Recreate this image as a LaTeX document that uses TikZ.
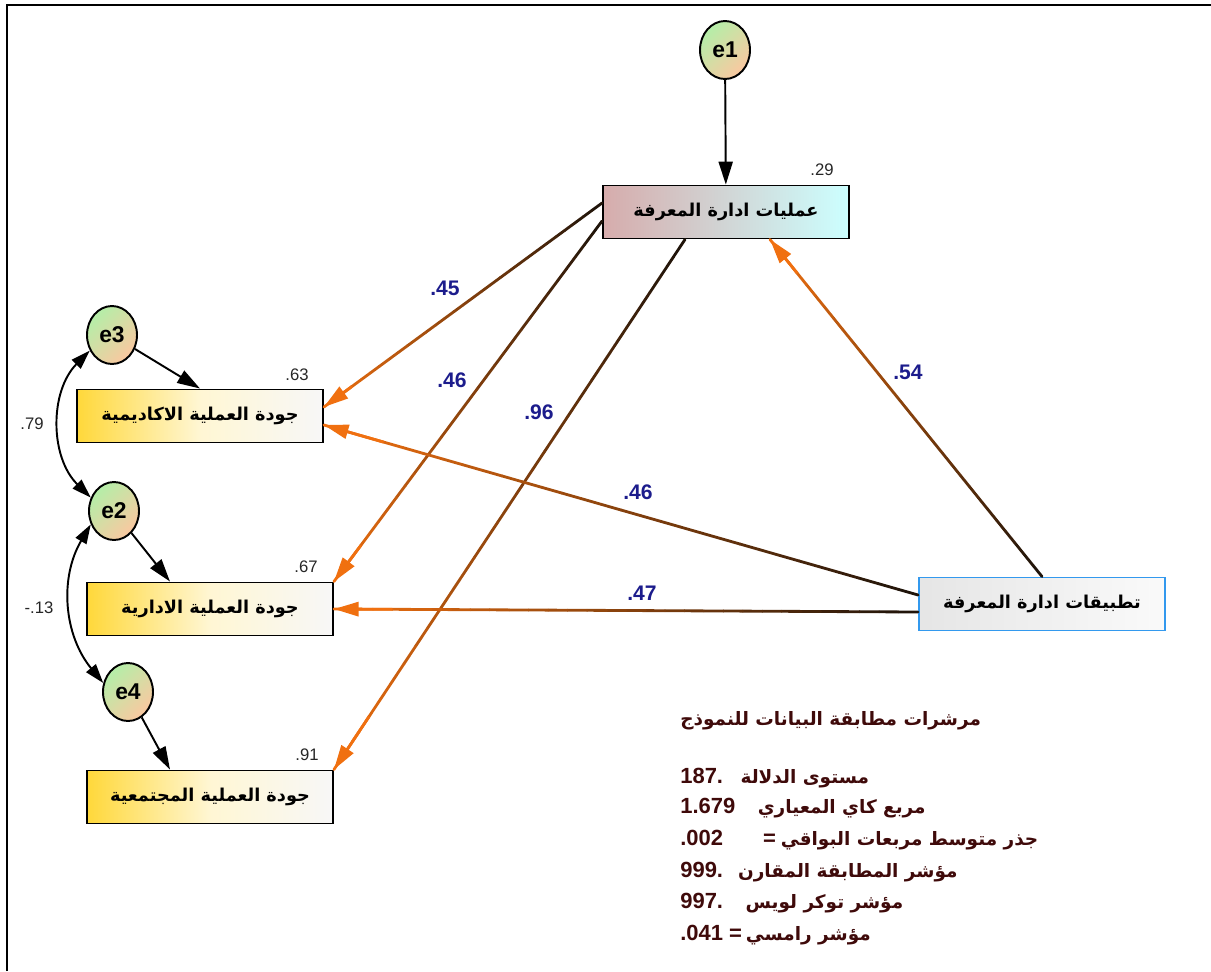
\documentclass[tikz,border=0pt]{standalone}
\usepackage{fontspec}
\setmainfont{Liberation Sans}
\newfontfamily\arabicfont[Script=Arabic,Scale=0.84]{DejaVu Sans}
\TeXXeTstate=1
\usetikzlibrary{arrows.meta,shapes.geometric,calc}

\definecolor{pathdark}{HTML}{20140A}
\definecolor{pathorange}{HTML}{F07010}
\definecolor{coefblue}{HTML}{1C1C8C}
\definecolor{fitred}{HTML}{3F0A0A}
\definecolor{egreen}{HTML}{B4EEA8}
\definecolor{epeach}{HTML}{FAC8A0}
\definecolor{opspink}{HTML}{D6ACAC}
\definecolor{opscyan}{HTML}{CCFFFF}
\definecolor{outyellow}{HTML}{FFD83A}
\definecolor{appsblue}{HTML}{3399EE}

% arabic text, right to left
\newcommand{\ar}[1]{{\arabicfont\bfseries\beginR #1\endR}}

% path from #1 to #2, dark at the start and orange at the head
\newcommand{\gradpath}[2]{%
  \foreach \k in {0,...,29}{%
    \pgfmathsetmacro\ka{\k/30}%
    \pgfmathsetmacro\kb{(\k+1)/30}%
    \pgfmathtruncatemacro\kc{100*\k/29}%
    \draw[line width=1.6pt, line cap=round, draw=pathorange!\kc!pathdark] ($#1!\ka!#2$) -- ($#1!\kb!#2$);
  }%
  \draw[-{Triangle[length=14pt,width=8pt]}, line width=1.6pt, pathorange] ($#1!0.9!#2$) -- #2;
}

\begin{document}
\begin{tikzpicture}[x=0.02cm, y=-0.02cm,
  errvar/.style={ellipse, draw, line width=1.1pt, minimum width=1.0cm, minimum height=1.16cm, inner sep=0pt,
    top color=egreen, bottom color=epeach, shading angle=45, font=\bfseries\fontsize{13}{13}\selectfont},
  obsbox/.style={rectangle, draw, line width=1.1pt, minimum width=4.92cm, minimum height=1.06cm, inner sep=0pt,
    font=\fontsize{12}{14}\selectfont},
  outbox/.style={obsbox, left color=outyellow, right color=white!97!black, middle color=outyellow!22!white},
  coef/.style={text=coefblue, font=\bfseries\fontsize{12}{12}\selectfont},
  rsq/.style={text=black!85, font=\fontsize{9.5}{10}\selectfont},
  fitline/.style={anchor=west, text=fitred, inner sep=0pt, font=\bfseries\fontsize{12.5}{14}\selectfont},
  blackarrow/.style={-{Triangle[length=13pt,width=8pt]}, line width=1.1pt},
  covarrow/.style={{Triangle[length=11pt,width=7pt]}-{Triangle[length=11pt,width=7pt]}, line width=1.1pt}]
\useasboundingbox (0,0) rectangle (1211,971);
\draw[line width=1.7pt] (7,971) -- (7,5) -- (1211,5);

% variables
\node[errvar] (e1) at (725,50) {e1};
\node[obsbox, left color=opspink, right color=opscyan] (ops) at (726,212) {\ar{عمليات ادارة المعرفة}};
\node[obsbox, draw=appsblue, left color=black!10, right color=black!2] (apps) at (1042,604) {\ar{تطبيقات ادارة المعرفة}};
\node[errvar] (e3) at (112,335) {e3};
\node[outbox] (acad) at (200,416) {\ar{جودة العملية الاكاديمية}};
\node[errvar] (e2) at (114,511) {e2};
\node[outbox] (admin) at (210,609) {\ar{جودة العملية الادارية}};
\node[errvar] (e4) at (128,692) {e4};
\node[outbox] (comm) at (210,797) {\ar{جودة العملية المجتمعية}};

% squared multiple correlations
\node[rsq] (r1) at (822,170) {.29};
\node[rsq] (r2) at (297,375) {.63};
\node[rsq] (r3) at (306,567) {.67};
\node[rsq] (r4) at (307,755) {.91};

% end points on the box sides
\coordinate (opsA) at ($(ops.west)+(0,-9)$);
\coordinate (opsB) at ($(ops.west)+(0,9)$);
\coordinate (opsC) at ($(ops.south)+(-41,0)$);
\coordinate (opsD) at ($(ops.south)+(44,0)$);
\coordinate (appsA) at ($(apps.west)+(0,-9)$);
\coordinate (appsB) at ($(apps.west)+(0,8)$);
\coordinate (acadA) at ($(acad.east)+(0,-9)$);
\coordinate (acadB) at ($(acad.east)+(0,9)$);
\coordinate (adminT) at ($(admin.north)+(-40,0)$);
\coordinate (commT) at ($(comm.north)+(-40,0)$);

% paths
\gradpath{(opsA)}{(acadA)}
\gradpath{(opsB)}{(admin.north east)}
\gradpath{(opsC)}{(comm.north east)}
\gradpath{(appsA)}{(acadB)}
\gradpath{(appsB)}{(admin.east)}
\gradpath{(apps.north)}{(opsD)}

% errors
\draw[blackarrow] (e1) -- (ops);
\draw[blackarrow] (e3) -- (acad.north);
\draw[blackarrow] (e2) -- (adminT);
\draw[blackarrow] (e4) -- (commT);
\draw[covarrow] (e3.215) to[bend right=45] (e2.150);
\draw[covarrow] (e2.210) to[bend right=35] (e4.160);
\node[rsq] (cov1) at (32,424) {.79};
\node[rsq] (cov2) at (39,608) {-.13};

% coefficients
\node[coef] (c1) at (445,288) {.45};
\node[coef] (c2) at (452,380) {.46};
\node[coef] (c3) at (539,412) {.96};
\node[coef] (c4) at (638,492) {.46};
\node[coef] (c5) at (642,593) {.47};
\node[coef] (c6) at (908,372) {.54};

% fit indices
\node[fitline] (fit0) at (680,721) {\ar{مرشرات مطابقة البيانات للنموذج}};
\node[fitline] (fit1) at (680,778) {187.\hspace{0.35cm}\ar{مستوى الدلالة}};
\node[fitline] (fit2) at (680,808) {1.679\hspace{0.45cm}\ar{مربع كاي المعياري}};
\node[fitline] (fit3) at (680,840) {.002\hspace{0.8cm}=\hspace{0.1cm}\ar{جذر متوسط مربعات البواقي}};
\node[fitline] (fit4) at (680,872) {999.\hspace{0.3cm}\ar{مؤشر المطابقة المقارن}};
\node[fitline] (fit5) at (680,903) {997.\hspace{0.45cm}\ar{مؤشر توكر لويس}};
\node[fitline] (fit6) at (680,935) {.041\hspace{0.12cm}=\hspace{0.08cm}\ar{مؤشر رامسي}};
\end{tikzpicture}
\end{document}
